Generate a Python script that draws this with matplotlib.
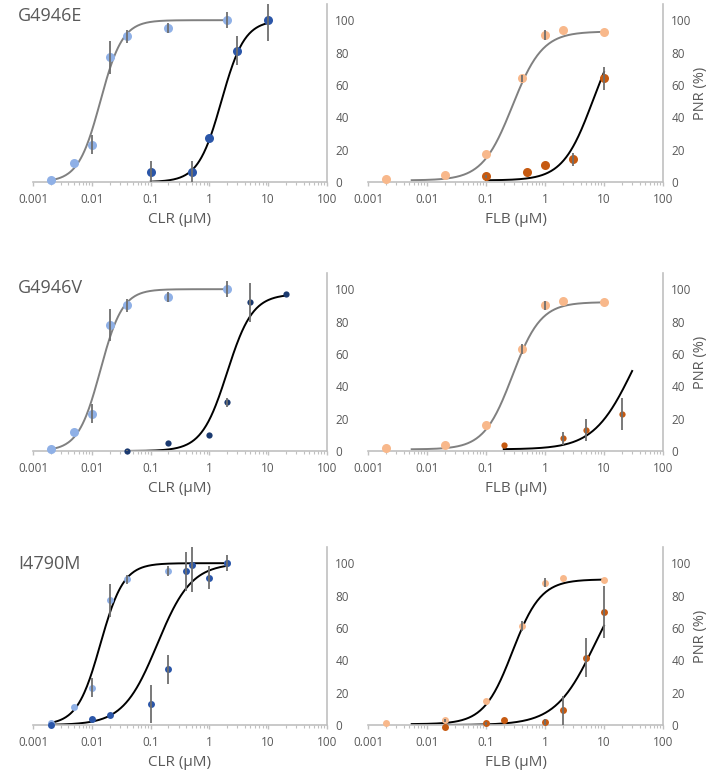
#!/usr/bin/env python3

import matplotlib

matplotlib.use("Agg")
import matplotlib.pyplot as plt
import numpy as np
from matplotlib.ticker import LogLocator, NullFormatter, FixedLocator

plt.rcParams["font.family"] = ["Open Sans", "DejaVu Sans"]

LIGHT_BLUE = "#8fb0e6"
DARK_BLUE = "#2b56a8"
NAVY = "#1b3a70"
LIGHT_ORANGE = "#f8b88b"
DARK_ORANGE = "#c65a11"
GRAY_LINE = "#808080"
ERR_GRAY = "#6e6e6e"
AXIS_GRAY = "#c0c0c0"
TEXT_GRAY = "#595959"

mutants = ["G4946E", "G4946V", "I4790M"]
drugs = ["CLR", "FLB"]

# ---- measured points (concentration in uM, PNR %, error) ----
# G4946E / CLR
e_clr_wt_x = [0.002, 0.005, 0.01, 0.02, 0.04, 0.2, 2]
e_clr_wt_y = [1, 12, 23, 77, 90, 95, 100]
e_clr_wt_err = [0, 0, 6, 10, 4, 3, 5]
e_clr_mut_x = [0.1, 0.5, 1, 3, 10]
e_clr_mut_y = [6, 6, 27, 81, 100]
e_clr_mut_err = [7, 7, 0, 9, 13]
# G4946E / FLB
e_flb_wt_x = [0.002, 0.02, 0.1, 0.4, 1, 2, 10]
e_flb_wt_y = [2, 4.5, 17, 64, 91, 94, 93]
e_flb_wt_err = [0, 0, 0, 2, 3, 0, 0]
e_flb_mut_x = [0.1, 0.5, 1, 3, 10]
e_flb_mut_y = [3.5, 6, 10.5, 14, 64]
e_flb_mut_err = [1, 0, 0, 4, 7]

# G4946V / CLR
v_clr_wt_x = [0.002, 0.005, 0.01, 0.02, 0.04, 0.2, 2]
v_clr_wt_y = [1.5, 11.5, 23, 78, 90, 95, 100]
v_clr_wt_err = [0, 0, 6, 10, 4, 3, 5]
v_clr_mut_x = [0.04, 0.2, 1, 2, 5, 20]
v_clr_mut_y = [0, 5, 10, 30, 92, 97]
v_clr_mut_err = [0.5, 0, 0, 3, 12, 0]
# G4946V / FLB
v_flb_wt_x = [0.002, 0.02, 0.1, 0.4, 1, 2, 10]
v_flb_wt_y = [1.6, 4, 16, 63, 90, 93, 92]
v_flb_wt_err = [0, 0, 0, 3, 3, 0, 0]
v_flb_mut_x = [0.2, 2, 5, 20]
v_flb_mut_y = [4, 8, 13, 23]
v_flb_mut_err = [0, 4, 7, 10]

# I4790M / CLR
m_clr_wt_x = [0.002, 0.005, 0.01, 0.02, 0.04, 0.2, 2]
m_clr_wt_y = [1.5, 11, 23, 77, 90, 95, 100]
m_clr_wt_err = [0, 0, 6, 10, 3, 3, 5]
m_clr_mut_x = [0.002, 0.01, 0.02, 0.1, 0.2, 0.4, 0.5, 1, 2]
m_clr_mut_y = [0, 4, 6, 13, 34.5, 95, 99, 91, 100]
m_clr_mut_err = [0, 0, 0, 12, 9, 12, 17, 7, 0]
# I4790M / FLB
m_flb_wt_x = [0.002, 0.02, 0.1, 0.4, 1, 2, 10]
m_flb_wt_y = [1, 3, 15, 61, 88, 90.6, 89.4]
m_flb_wt_err = [0, 1, 0, 3, 3, 0, 0]
m_flb_mut_x = [0.02, 0.1, 0.2, 1, 2, 5, 10]
m_flb_mut_y = [-1, 1, 3, 2, 9, 41.6, 70]
m_flb_mut_err = [0, 1, 0, 2, 9, 12, 16]

# ---- fitted Hill curves: bottom, top, IC50, hill slope, x range ----
e_clr_fits = [(0, 100, 0.014, 2.3, 0.002, 2), (0, 100, 1.6, 2.2, 0.1, 10)]
e_flb_fits = [(1, 93, 0.28, 1.7, 0.0055, 10), (1, 100, 6.5, 1.7, 0.1, 10)]
v_clr_fits = [(0, 100, 0.014, 2.3, 0.002, 2), (0, 97, 2.0, 2.0, 0.04, 20)]
v_flb_fits = [(1, 92, 0.28, 1.8, 0.0055, 10), (1, 100, 31, 1.3, 0.2, 30)]
m_clr_fits = [(0, 100, 0.014, 2.2, 0.002, 2), (0, 100, 0.13, 1.5, 0.002, 2)]
m_flb_fits = [(0.5, 90, 0.28, 1.8, 0.0055, 10), (0, 100, 7.0, 1.3, 0.02, 10)]


def hill(x, bottom, top, ic50, n):
    return bottom + (top - bottom) / (1 + (ic50 / x) ** n)


panels = [
    # (row, col, wt data, mut data, fits, colors, marker sizes, curve colors)
    (0, 0, (e_clr_wt_x, e_clr_wt_y, e_clr_wt_err), (e_clr_mut_x, e_clr_mut_y, e_clr_mut_err),
     e_clr_fits, (LIGHT_BLUE, DARK_BLUE), (6.5, 6.5), (GRAY_LINE, "black")),
    (0, 1, (e_flb_wt_x, e_flb_wt_y, e_flb_wt_err), (e_flb_mut_x, e_flb_mut_y, e_flb_mut_err),
     e_flb_fits, (LIGHT_ORANGE, DARK_ORANGE), (6.5, 6.5), (GRAY_LINE, "black")),
    (1, 0, (v_clr_wt_x, v_clr_wt_y, v_clr_wt_err), (v_clr_mut_x, v_clr_mut_y, v_clr_mut_err),
     v_clr_fits, (LIGHT_BLUE, NAVY), (6.5, 4.5), (GRAY_LINE, "black")),
    (1, 1, (v_flb_wt_x, v_flb_wt_y, v_flb_wt_err), (v_flb_mut_x, v_flb_mut_y, v_flb_mut_err),
     v_flb_fits, (LIGHT_ORANGE, DARK_ORANGE), (6.5, 4.5), (GRAY_LINE, "black")),
    (2, 0, (m_clr_wt_x, m_clr_wt_y, m_clr_wt_err), (m_clr_mut_x, m_clr_mut_y, m_clr_mut_err),
     m_clr_fits, (LIGHT_BLUE, DARK_BLUE), (5, 5), ("black", "black")),
    (2, 1, (m_flb_wt_x, m_flb_wt_y, m_flb_wt_err), (m_flb_mut_x, m_flb_mut_y, m_flb_mut_err),
     m_flb_fits, (LIGHT_ORANGE, DARK_ORANGE), (5, 5), ("black", "black")),
]

fig = plt.figure(figsize=(7.09, 7.76), dpi=100)

W, H = 709, 776
col_left = [33, 368]
col_width = [294, 295]
row_bottom = [182, 451, 725]
ax_height = 178

for row, col, wt, mut, fits, colors, sizes, curve_colors in panels:
    ax = fig.add_axes([col_left[col] / W, 1 - row_bottom[row] / H,
                       col_width[col] / W, ax_height / H])
    ax.set_xscale("log")
    ax.set_xlim(0.001, 100)
    ax.set_ylim(0, 110)

    for fit, cc in zip(fits, curve_colors):
        b, t, ic, n, x0, x1 = fit
        xs = np.logspace(np.log10(x0), np.log10(x1), 200)
        ax.plot(xs, hill(xs, b, t, ic, n), color=cc, lw=1.4, zorder=2)

    for (x, y, err), c, ms in zip((wt, mut), colors, sizes):
        ax.plot(x, y, "o", color=c, ms=ms, mec="none", zorder=3, clip_on=False)
        ax.errorbar(x, y, yerr=err, fmt="none", ecolor=ERR_GRAY, elinewidth=1.3,
                    capsize=0, zorder=4)

    for side in ("top", "left"):
        ax.spines[side].set_visible(False)
    for side in ("bottom", "right"):
        ax.spines[side].set_color(AXIS_GRAY)
        ax.spines[side].set_linewidth(1.2)

    ax.yaxis.tick_right()
    ax.yaxis.set_major_locator(FixedLocator([0, 20, 40, 60, 80, 100]))
    ax.tick_params(axis="y", length=0, pad=6, labelsize=8.5, labelcolor=TEXT_GRAY)
    ax.xaxis.set_major_locator(LogLocator(base=10, numticks=10))
    ax.xaxis.set_minor_locator(LogLocator(base=10, subs=np.arange(2, 10), numticks=10))
    ax.xaxis.set_minor_formatter(NullFormatter())
    ax.set_xticks([0.001, 0.01, 0.1, 1, 10, 100])
    ax.set_xticklabels(["0.001", "0.01", "0.1", "1", "10", "100"])
    ax.tick_params(axis="x", which="major", length=3, width=1, color=AXIS_GRAY,
                   labelsize=8.5, labelcolor=TEXT_GRAY, pad=5)
    ax.tick_params(axis="x", which="minor", length=2, width=0.8, color=AXIS_GRAY)

    ax.set_xlabel(f"{drugs[col]} (\u00b5M)", fontsize=11, color=TEXT_GRAY, labelpad=4)
    if col == 1:
        ax.yaxis.set_label_position("right")
        ax.set_ylabel("PNR (%)", fontsize=10.5, color=TEXT_GRAY, labelpad=1)
    else:
        ax.text(-0.05, 0.93 - 0.012 * row, mutants[row], transform=ax.transAxes,
                fontsize=13, color=TEXT_GRAY, ha="left", va="center")

fig.savefig("out.png", dpi=100)
